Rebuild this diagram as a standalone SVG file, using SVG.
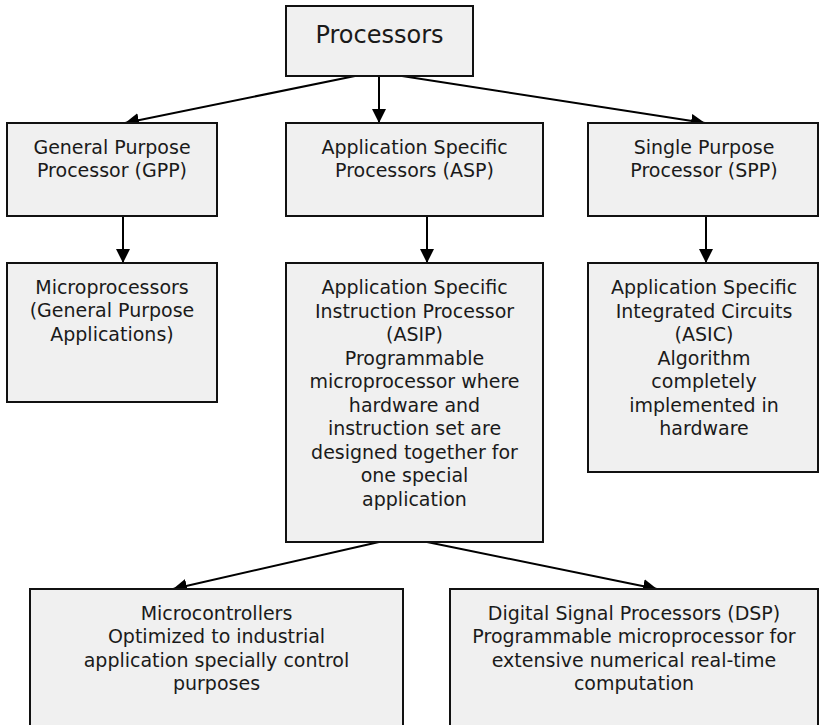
<svg xmlns="http://www.w3.org/2000/svg" width="820" height="725" viewBox="0 0 820 725">
<style>
.box{fill:#f0f0f0;stroke:#111;stroke-width:2}
.t{font-family:"DejaVu Sans","Verdana",sans-serif;font-size:19px;fill:#1a1a1a;text-anchor:middle}
.big{font-size:24px}
.c{stroke:#000;stroke-width:2;fill:none;marker-end:url(#ah)}
</style>
<defs>
<marker id="ah" markerUnits="userSpaceOnUse" markerWidth="15" markerHeight="14" refX="14" refY="7" orient="auto">
<path d="M0,0 L14,7 L0,14 z" fill="#000"/>
</marker>
</defs>
<rect width="820" height="725" fill="#fff"/>
<g id="connectors">
<line class="c" x1="355" y1="76" x2="125" y2="123"/>
<line class="c" x1="379" y1="76" x2="379" y2="123"/>
<line class="c" x1="402" y1="76" x2="705" y2="123"/>
<line class="c" x1="123" y1="216" x2="123" y2="263"/>
<line class="c" x1="427" y1="216" x2="427" y2="263"/>
<line class="c" x1="706" y1="216" x2="706" y2="263"/>
<line class="c" x1="379" y1="542" x2="173" y2="589"/>
<line class="c" x1="427" y1="542" x2="657" y2="589"/>
</g>
<g id="processors">
<rect class="box" x="286" y="6" width="187" height="70"/>
<text class="t big" x="379.5" y="43">Processors</text>
</g>
<g id="gpp">
<rect class="box" x="7" y="123" width="210" height="93"/>
<text class="t" x="112" y="153.5">General Purpose</text>
<text class="t" x="112" y="177">Processor (GPP)</text>
</g>
<g id="asp">
<rect class="box" x="286" y="123" width="257" height="93"/>
<text class="t" x="414.5" y="153.5">Application Specific</text>
<text class="t" x="414.5" y="177">Processors (ASP)</text>
</g>
<g id="spp">
<rect class="box" x="588" y="123" width="230" height="93"/>
<text class="t" x="704" y="153.5">Single Purpose</text>
<text class="t" x="704" y="177">Processor (SPP)</text>
</g>
<g id="microprocessors">
<rect class="box" x="7" y="263" width="210" height="139"/>
<text class="t" x="112" y="293.5">Microprocessors</text>
<text class="t" x="112" y="317">(General Purpose</text>
<text class="t" x="112" y="340.5">Applications)</text>
</g>
<g id="asip">
<rect class="box" x="286" y="263" width="257" height="279"/>
<text class="t" x="414.5" y="294">Application Specific</text>
<text class="t" x="414.5" y="317.5">Instruction Processor</text>
<text class="t" x="414.5" y="341">(ASIP)</text>
<text class="t" x="414.5" y="364.5">Programmable</text>
<text class="t" x="414.5" y="388">microprocessor where</text>
<text class="t" x="414.5" y="411.5">hardware and</text>
<text class="t" x="414.5" y="435">instruction set are</text>
<text class="t" x="414.5" y="458.5">designed together for</text>
<text class="t" x="414.5" y="482">one special</text>
<text class="t" x="414.5" y="505.5">application</text>
</g>
<g id="asic">
<rect class="box" x="588" y="263" width="230" height="209"/>
<text class="t" x="704" y="294">Application Specific</text>
<text class="t" x="704" y="317.5">Integrated Circuits</text>
<text class="t" x="704" y="341">(ASIC)</text>
<text class="t" x="704" y="364.5">Algorithm</text>
<text class="t" x="704" y="388">completely</text>
<text class="t" x="704" y="411.5">implemented in</text>
<text class="t" x="704" y="435">hardware</text>
</g>
<g id="microcontrollers">
<rect class="box" x="30" y="589" width="373" height="150"/>
<text class="t" x="216.5" y="619.5">Microcontrollers</text>
<text class="t" x="216.5" y="643">Optimized to industrial</text>
<text class="t" x="216.5" y="666.5">application specially control</text>
<text class="t" x="216.5" y="690">purposes</text>
</g>
<g id="dsp">
<rect class="box" x="450" y="589" width="368" height="150"/>
<text class="t" x="634" y="619.5">Digital Signal Processors (DSP)</text>
<text class="t" x="634" y="643">Programmable microprocessor for</text>
<text class="t" x="634" y="666.5">extensive numerical real-time</text>
<text class="t" x="634" y="690">computation</text>
</g>
</svg>
